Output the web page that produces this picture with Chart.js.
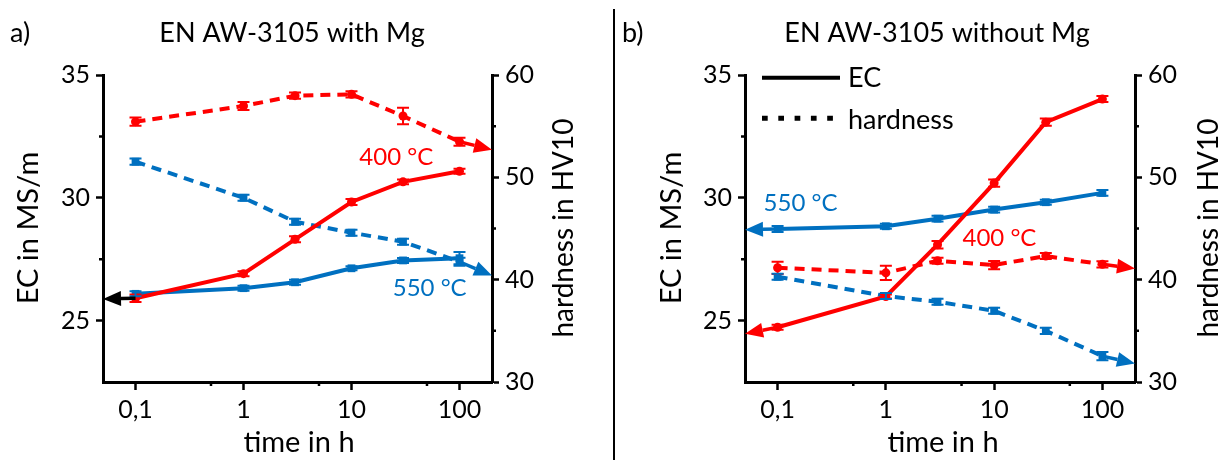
<!DOCTYPE html>
<html><head><meta charset="utf-8">
<script src="https://cdn.jsdelivr.net/npm/chart.js@4/dist/chart.umd.min.js"></script>
<style>
html,body{margin:0;padding:0;background:#fff;width:1222px;height:460px;overflow:hidden;}
#ca{position:absolute;left:0;top:0;}
#cb{position:absolute;left:614px;top:0;}
#divider{position:absolute;left:613px;top:9px;width:2px;height:451px;background:#000;}
</style></head><body>
<canvas id="ca" width="612" height="460"></canvas>
<div id="divider"></div>
<canvas id="cb" width="608" height="460"></canvas>
<script>
// ---- data ----
const times = [0.1, 1, 3, 10, 30, 100];
const xTickValues = [0.1, 1, 10, 100];
const xTickLabels = ['0,1', '1', '10', '100'];
const xMinorTicks = [0.5, 5, 50];
const ecTicks = [25, 30, 35];
const ecMinorTicks = [27.5, 32.5];
const hvTicks = [30, 40, 50, 60];
const hvMinorTicks = [35, 45, 55];

// a) EN AW-3105 with Mg
const ecMg400 = [25.91, 26.91, 28.31, 29.83, 30.65, 31.08];
const ecMg400Err = [0.15, 0.1, 0.12, 0.12, 0.1, 0.1];
const ecMg550 = [26.09, 26.32, 26.56, 27.13, 27.45, 27.54];
const ecMg550Err = [0.1, 0.1, 0.1, 0.08, 0.1, 0.25];
const hvMg400 = [55.44, 56.97, 57.98, 58.11, 55.99, 53.48];
const hvMg400Err = [0.4, 0.4, 0.3, 0.3, 0.8, 0.4];
const hvMg550 = [51.53, 48.0, 45.66, 44.59, 43.71, 41.75];
const hvMg550Err = [0.3, 0.3, 0.3, 0.3, 0.3, 0.4];

// b) EN AW-3105 without Mg
const ecNoMg400 = [24.73, 25.98, 28.09, 30.6, 33.08, 34.02];
const ecNoMg400Err = [0.1, 0.08, 0.15, 0.15, 0.15, 0.12];
const ecNoMg550 = [28.73, 28.84, 29.15, 29.52, 29.82, 30.2];
const ecNoMg550Err = [0.12, 0.1, 0.12, 0.12, 0.1, 0.12];
const hvNoMg400 = [41.16, 40.67, 41.85, 41.43, 42.31, 41.5];
const hvNoMg400Err = [0.6, 0.7, 0.3, 0.4, 0.3, 0.3];
const hvNoMg550 = [40.28, 38.4, 37.84, 36.96, 35.0, 32.53];
const hvNoMg550Err = [0.3, 0.3, 0.3, 0.3, 0.3, 0.4];

// arrow tips (axis side)
const arrowTipsA = [25.88, 52.7, 40.4];
const arrowTipsB = [28.7, 24.46, 41.1, 31.8];

const RED = '#ff0000';
const BLUE = '#0070c0';
const FONT = 'Lato';

function pts(arr) { return times.map((t, i) => ({ x: t, y: arr[i] })); }

function ds(label, arr, err, axis, color, dashed, style) {
  return {
    label, data: pts(arr), errors: err, yAxisID: axis,
    borderColor: color, backgroundColor: color, borderWidth: 4,
    borderDash: dashed ? [10, 7] : [], pointStyle: style,
    pointRadius: style === 'rect' ? 5.5 : 4.5, pointBorderWidth: 0,
    tension: 0
  };
}

function drawArrow(ctx, x1, y1, x2, y2, color) {
  const ang = Math.atan2(y2 - y1, x2 - x1);
  const L = 18, W = 7.5;
  const bx = x2 - L * Math.cos(ang), by = y2 - L * Math.sin(ang);
  ctx.save();
  ctx.strokeStyle = color; ctx.fillStyle = color; ctx.lineWidth = 3.5; ctx.setLineDash([]);
  ctx.beginPath(); ctx.moveTo(x1, y1); ctx.lineTo(bx, by); ctx.stroke();
  ctx.beginPath();
  ctx.moveTo(x2, y2);
  ctx.lineTo(bx - W * Math.sin(ang), by + W * Math.cos(ang));
  ctx.lineTo(bx + W * Math.sin(ang), by - W * Math.cos(ang));
  ctx.closePath(); ctx.fill();
  ctx.restore();
}

const extras = {
  id: 'extras',
  afterDatasetsDraw(chart, args, opts) {
    const ctx = chart.ctx, xs = chart.scales.x;
    chart.data.datasets.forEach(d => {
      const ys = chart.scales[d.yAxisID];
      ctx.save(); ctx.strokeStyle = d.borderColor; ctx.lineWidth = 2; ctx.setLineDash([]);
      d.data.forEach((p, j) => {
        const e = d.errors[j];
        const px = xs.getPixelForValue(p.x);
        const y1 = ys.getPixelForValue(p.y - e), y2 = ys.getPixelForValue(p.y + e);
        ctx.beginPath();
        ctx.moveTo(px, y1); ctx.lineTo(px, y2);
        ctx.moveTo(px - 6, y1); ctx.lineTo(px + 6, y1);
        ctx.moveTo(px - 6, y2); ctx.lineTo(px + 6, y2);
        ctx.stroke();
      });
      ctx.restore();
    });
    (opts.arrows || []).forEach(a => {
      const d = chart.data.datasets[a.ds];
      const ys = chart.scales[d.yAxisID];
      const p = d.data[a.idx];
      drawArrow(ctx, xs.getPixelForValue(p.x), ys.getPixelForValue(p.y),
        xs.getPixelForValue(a.tipX), ys.getPixelForValue(a.tipY), a.color);
    });
  },
  afterDraw(chart, args, opts) {
    const ctx = chart.ctx, xs = chart.scales.x, ye = chart.scales.yEC, yh = chart.scales.yHV;
    ctx.save();
    ctx.strokeStyle = '#000'; ctx.lineWidth = 2.5; ctx.setLineDash([]);
    ctx.beginPath();
    xMinorTicks.forEach(v => { const p = xs.getPixelForValue(v); ctx.moveTo(p, xs.top); ctx.lineTo(p, xs.top + 4); });
    ecMinorTicks.forEach(v => { const p = ye.getPixelForValue(v); ctx.moveTo(ye.right, p); ctx.lineTo(ye.right - 4, p); });
    hvMinorTicks.forEach(v => { const p = yh.getPixelForValue(v); ctx.moveTo(yh.left, p); ctx.lineTo(yh.left + 4, p); });
    ctx.stroke();
    ctx.restore();
    // data-anchored labels
    (opts.labels || []).forEach(l => {
      ctx.save();
      ctx.font = l.size + 'px ' + FONT; ctx.fillStyle = l.color;
      ctx.textAlign = 'center'; ctx.textBaseline = 'middle';
      ctx.fillText(l.text, xs.getPixelForValue(l.xv), ye.getPixelForValue(l.yv));
      ctx.restore();
    });
    // fixed texts
    (opts.texts || []).forEach(t => {
      ctx.save();
      ctx.font = t.size + 'px ' + FONT; ctx.fillStyle = '#000';
      ctx.textAlign = t.align || 'center'; ctx.textBaseline = 'middle';
      ctx.translate(t.x, t.y);
      if (t.rot) ctx.rotate(t.rot);
      ctx.fillText(t.text, 0, 0);
      ctx.restore();
    });
    // legend
    if (opts.legend) {
      const lg = opts.legend;
      ctx.save();
      ctx.strokeStyle = '#000';
      ctx.lineWidth = 4; ctx.setLineDash([]);
      ctx.beginPath(); ctx.moveTo(lg.x1, lg.y1); ctx.lineTo(lg.x2, lg.y1); ctx.stroke();
      ctx.setLineDash([5.7, 10.6]); ctx.lineWidth = 5;
      ctx.beginPath(); ctx.moveTo(lg.x1, lg.y2); ctx.lineTo(lg.x2, lg.y2); ctx.stroke();
      ctx.setLineDash([]);
      ctx.font = '27px ' + FONT; ctx.fillStyle = '#000'; ctx.textBaseline = 'middle'; ctx.textAlign = 'left';
      ctx.fillText('EC', lg.tx, lg.y1 + 1);
      ctx.fillText('hardness', lg.tx, lg.y2 + 2);
      ctx.restore();
    }
  }
};

function makeChart(id, sets, geo, extraOpts) {
  const tickFont = { family: FONT, size: 25 };
  return new Chart(document.getElementById(id), {
    type: 'line',
    data: { datasets: sets },
    plugins: [extras],
    options: {
      responsive: false, animation: false, devicePixelRatio: 1,
      layout: { padding: { top: geo.top, left: 0, right: 0, bottom: 0 } },
      plugins: { legend: { display: false }, tooltip: { enabled: false }, extras: extraOpts },
      scales: {
        x: {
          type: 'logarithmic', min: 0.05, max: 200,
          afterBuildTicks: s => { s.ticks = xTickValues.concat(xMinorTicks).sort((a, b) => a - b).map(v => ({ value: v })); },
          afterFit: s => { s.height = geo.xH; },
          grid: { display: true, drawOnChartArea: false, drawTicks: true, tickLength: 8, tickWidth: 2.5,
            tickColor: c => (c.tick && xTickValues.includes(c.tick.value)) ? '#000' : 'rgba(0,0,0,0)' },
          border: { display: true, color: '#000', width: 3 },
          ticks: { autoSkip: false, maxRotation: 0, minRotation: 0, padding: 5, color: '#000', font: tickFont,
            callback: v => { const k = xTickValues.indexOf(v); return k >= 0 ? xTickLabels[k] : ''; } }
        },
        yEC: {
          type: 'linear', position: 'left', min: 22.5, max: 35,
          afterBuildTicks: s => { s.ticks = ecTicks.concat(ecMinorTicks).sort((a, b) => a - b).map(v => ({ value: v })); },
          afterFit: s => { s.width = geo.leftW; },
          grid: { display: true, drawOnChartArea: false, drawTicks: true, tickLength: 7, tickWidth: 2.5,
            tickColor: c => (c.tick && ecTicks.includes(c.tick.value)) ? '#000' : 'rgba(0,0,0,0)' },
          border: { display: true, color: '#000', width: 3 },
          ticks: { autoSkip: false, padding: 6, color: '#000', font: tickFont,
            callback: v => ecTicks.includes(v) ? String(v) : '' }
        },
        yHV: {
          type: 'linear', position: 'right', min: 30, max: 60,
          afterBuildTicks: s => { s.ticks = hvTicks.concat(hvMinorTicks).sort((a, b) => a - b).map(v => ({ value: v })); },
          afterFit: s => { s.width = geo.rightW; },
          grid: { display: true, drawOnChartArea: false, drawTicks: true, tickLength: 7, tickWidth: 2.5,
            tickColor: c => (c.tick && hvTicks.includes(c.tick.value)) ? '#000' : 'rgba(0,0,0,0)' },
          border: { display: true, color: '#000', width: 3 },
          ticks: { autoSkip: false, padding: 6, color: '#000', font: tickFont,
            callback: v => hvTicks.includes(v) ? String(v) : '' }
        }
      }
    }
  });
}

const ROT = -Math.PI / 2;

makeChart('ca', [
  ds('EC 400 °C', ecMg400, ecMg400Err, 'yEC', RED, false, 'circle'),
  ds('EC 550 °C', ecMg550, ecMg550Err, 'yEC', BLUE, false, 'rect'),
  ds('hardness 400 °C', hvMg400, hvMg400Err, 'yHV', RED, true, 'circle'),
  ds('hardness 550 °C', hvMg550, hvMg550Err, 'yHV', BLUE, true, 'rect')
], { top: 75, xH: 78, leftW: 103, rightW: 612 - 492 }, {
  arrows: [
    { ds: 0, idx: 0, tipX: 0.05, tipY: arrowTipsA[0], color: '#000' },
    { ds: 2, idx: 5, tipX: 200, tipY: arrowTipsA[1], color: RED },
    { ds: 3, idx: 5, tipX: 200, tipY: arrowTipsA[2], color: BLUE }
  ],
  labels: [
    { text: '400 °C', xv: 26, yv: 31.65, color: RED, size: 24 },
    { text: '550 °C', xv: 53, yv: 26.31, color: BLUE, size: 24 }
  ],
  texts: [
    { text: 'a)', x: 10, y: 33, size: 27, align: 'left' },
    { text: 'EN AW-3105 with Mg', x: 292, y: 33, size: 27 },
    { text: 'time in h', x: 299, y: 443, size: 29 },
    { text: 'EC in MS/m', x: 29, y: 228, size: 29, rot: ROT },
    { text: 'hardness in HV10', x: 564, y: 228, size: 28, rot: ROT }
  ]
});

makeChart('cb', [
  ds('EC 400 °C', ecNoMg400, ecNoMg400Err, 'yEC', RED, false, 'circle'),
  ds('EC 550 °C', ecNoMg550, ecNoMg550Err, 'yEC', BLUE, false, 'rect'),
  ds('hardness 400 °C', hvNoMg400, hvNoMg400Err, 'yHV', RED, true, 'circle'),
  ds('hardness 550 °C', hvNoMg550, hvNoMg550Err, 'yHV', BLUE, true, 'rect')
], { top: 75, xH: 78, leftW: 745 - 614, rightW: 608 - (1135 - 614) }, {
  arrows: [
    { ds: 1, idx: 0, tipX: 0.05, tipY: arrowTipsB[0], color: BLUE },
    { ds: 0, idx: 0, tipX: 0.05, tipY: arrowTipsB[1], color: RED },
    { ds: 2, idx: 5, tipX: 200, tipY: arrowTipsB[2], color: RED },
    { ds: 3, idx: 5, tipX: 200, tipY: arrowTipsB[3], color: BLUE }
  ],
  labels: [
    { text: '550 °C', xv: 0.163, yv: 29.78, color: BLUE, size: 24 },
    { text: '400 °C', xv: 11.2, yv: 28.35, color: RED, size: 24 }
  ],
  texts: [
    { text: 'b)', x: 8, y: 33, size: 27, align: 'left' },
    { text: 'EN AW-3105 without Mg', x: 323, y: 33, size: 27 },
    { text: 'time in h', x: 329, y: 443, size: 29 },
    { text: 'EC in MS/m', x: 58, y: 228, size: 29, rot: ROT },
    { text: 'hardness in HV10', x: 595, y: 228, size: 28, rot: ROT }
  ],
  legend: { x1: 148, x2: 226, y1: 77.7, y2: 118.3, tx: 234 }
});
</script>
</body></html>
